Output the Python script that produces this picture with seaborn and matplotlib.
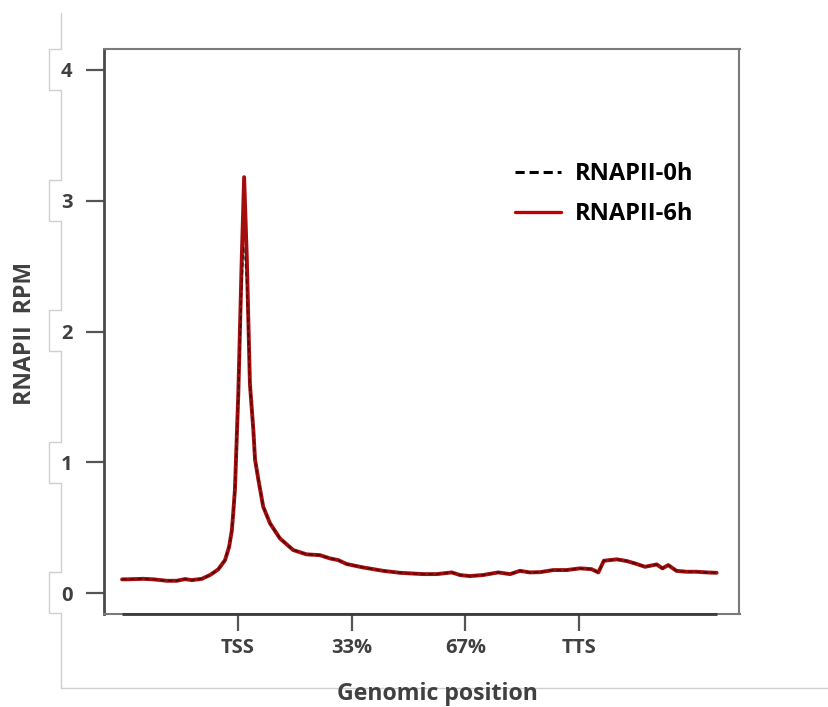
import matplotlib
matplotlib.use("Agg")
import matplotlib.pyplot as plt
from matplotlib.lines import Line2D
import seaborn as sns
import pandas as pd
import numpy as np

# ---- data (x: TSS = 0, TTS = 100 ; y: RPM) ----
position = [-34.0, -32.6, -27.8, -24.8, -20.9, -18.0, -15.5, -13.6, -10.6, -8.2,
            -5.8, -3.8, -2.6, -1.8, -1.4, -0.9, 0.1, 1.1, 1.8, 2.6,
            3.5, 4.5, 5.0, 6.0, 7.4, 9.4, 12.3, 16.2, 20.1, 24.0,
            27.0, 29.4, 31.9, 36.7, 42.6, 47.5, 54.3, 58.3, 62.7, 65.1,
            68.0, 71.9, 76.3, 79.8, 82.7, 85.6, 88.6, 92.5, 96.4, 100.3,
            103.7, 105.7, 107.3, 111.1, 114.0, 116.4, 119.4, 122.8, 124.5, 126.2,
            128.6, 131.6, 134.5, 137.4, 140.4]
rpm_6h = [0.105, 0.105, 0.109, 0.105, 0.094, 0.094, 0.107, 0.099, 0.109, 0.138,
          0.181, 0.252, 0.354, 0.48, 0.61, 0.79, 1.53, 2.55, 3.18, 2.55,
          1.60, 1.25, 1.02, 0.864, 0.66, 0.533, 0.418, 0.329, 0.296, 0.29,
          0.265, 0.252, 0.222, 0.196, 0.17, 0.155, 0.145, 0.145, 0.158, 0.138,
          0.13, 0.138, 0.158, 0.145, 0.17, 0.158, 0.16, 0.176, 0.176, 0.189,
          0.183, 0.158, 0.247, 0.258, 0.245, 0.227, 0.201, 0.219, 0.189, 0.214,
          0.17, 0.163, 0.163, 0.158, 0.155]
rpm_0h = [0.105, 0.105, 0.109, 0.105, 0.094, 0.094, 0.107, 0.099, 0.109, 0.138,
          0.181, 0.252, 0.354, 0.48, 0.61, 0.79, 1.50, 2.35, 2.65, 2.35,
          1.58, 1.25, 1.02, 0.864, 0.66, 0.533, 0.418, 0.329, 0.296, 0.29,
          0.265, 0.252, 0.222, 0.196, 0.17, 0.155, 0.145, 0.145, 0.158, 0.138,
          0.13, 0.138, 0.158, 0.145, 0.17, 0.158, 0.16, 0.176, 0.176, 0.189,
          0.183, 0.158, 0.247, 0.258, 0.245, 0.227, 0.201, 0.219, 0.189, 0.214,
          0.17, 0.163, 0.163, 0.158, 0.155]
series_names = ["RNAPII-0h", "RNAPII-6h"]
xtick_pos = [0, 33.3, 66.7, 100]
xtick_labels = ["TSS", "33%", "67%", "TTS"]
ytick_pos = [0, 1, 2, 3, 4]

sns.set_theme(style="white")
plt.rcParams["font.family"] = ["Open Sans", "DejaVu Sans"]
plt.rcParams["font.weight"] = "bold"

W, H = 829, 707
fig = plt.figure(figsize=(W / 100, H / 100), dpi=100)
ax = fig.add_axes([104 / W, 1 - 614 / H, (739.5 - 104) / W, (614 - 49) / H])

df0 = pd.DataFrame({"x": position, "y": rpm_0h})
df6 = pd.DataFrame({"x": position, "y": rpm_6h})
red = "#a30d0d"
sns.lineplot(data=df6, x="x", y="y", ax=ax, color=red, lw=2.8, sort=False)
sns.lineplot(data=df0, x="x", y="y", ax=ax, color="black", lw=1.1, alpha=0.55,
             linestyle=(0, (3, 2)), sort=False)

ax.set_xlim(-39.3, 147.1)
ax.set_ylim(-0.16, 4.16)
ax.set_xticks(xtick_pos)
ax.set_xticklabels(xtick_labels)
ax.set_yticks(ytick_pos)
ax.set_yticklabels([str(v) for v in ytick_pos])

tc = "#404040"
ax.tick_params(axis="y", length=13, width=1.6, color="#555555", pad=9.5,
               labelsize=14.5, labelcolor=tc, left=True)
ax.tick_params(axis="x", length=12, width=1.6, color="#555555", pad=5,
               labelsize=14.5, labelcolor=tc, bottom=True)
for lab in ax.get_xticklabels() + ax.get_yticklabels():
    lab.set_fontweight("bold")

for side in ["top", "right", "bottom"]:
    ax.spines[side].set_color("#7a7a7a")
    ax.spines[side].set_linewidth(1.5)
ax.spines["left"].set_color("#4a4a4a")
ax.spines["left"].set_linewidth(2.0)
# darker axis line under the data range on the bottom edge
ax.hlines(ax.get_ylim()[0], position[0], position[-1], color="#3a3a3a", lw=2.0,
          clip_on=False, zorder=5)

ax.set_xlabel("")
ax.set_ylabel("")
fig.text(437 / W, 1 - 694 / H, "Genomic position", ha="center", va="center",
         fontsize=16.7, fontweight="bold", color=tc)
fig.text(25 / W, 1 - 333 / H, "RNAPII  RPM", ha="center", va="center",
         rotation=90, fontsize=16.6, fontweight="bold", color=tc)

handles = [Line2D([], [], color="black", lw=2.2, linestyle=(0, (3, 1.6))),
           Line2D([], [], color="#c00000", lw=2.4)]
leg = ax.legend(handles, series_names, loc="upper left",
                bbox_to_anchor=((515 - 104) / 635.5, (614 - 162.5) / 565),
                frameon=False, fontsize=17, handlelength=1.95, handletextpad=0.6,
                labelspacing=0.67, borderpad=0, borderaxespad=0)
for t in leg.get_texts():
    t.set_fontweight("bold")
    t.set_color("black")

# faint slide artifacts (light grey frame lines and label brackets)
g = "#d0d0d0"
def fl(xs, ys):
    fig.add_artist(Line2D([x / W for x in xs], [1 - y / H for y in ys],
                          color=g, lw=1.0, transform=fig.transFigure))
centers = [70, 201, 331, 463, 593]
prev = 13
for c in centers:
    fl([61, 61], [prev, c - 21])
    fl([61, 49, 49, 61], [c - 21, c - 21, c + 20, c + 20])
    prev = c + 20
fl([61, 61], [prev, 688])
fl([61, 829], [688, 688])

fig.savefig("out.png", dpi=100)
